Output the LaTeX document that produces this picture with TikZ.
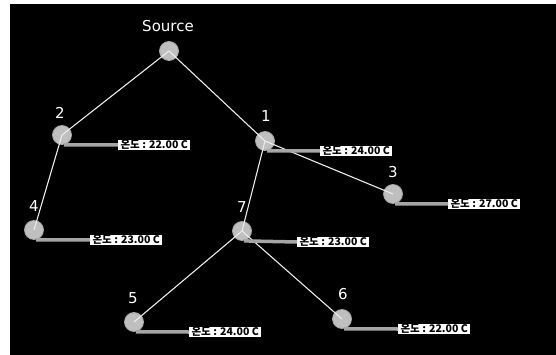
\documentclass[tikz,border=0pt]{standalone}
\usepackage{fontspec}
\setmainfont{DejaVu Sans}
\newfontfamily\krfont{Noto Sans CJK KR}
\begin{document}
\begin{tikzpicture}[x=1pt,y=-1pt,
  dot/.style={circle,minimum size=19pt,inner sep=0pt,fill=gray!50,draw=gray!70,line width=0.8pt},
  num/.style={text=white,font=\fontsize{15}{16}\selectfont,inner sep=0pt},
  edge/.style={draw=white!85!gray,line width=1.1pt},
  bar/.style={draw=gray!70,line width=3.5pt},
  tbox/.style={fill=white,text=black,minimum width=72pt,minimum height=10.5pt,inner sep=0pt,anchor=west,font=\krfont\bfseries\fontsize{10.5}{10.5}\selectfont}]
\useasboundingbox (0,0) rectangle (556,355);
\fill[black] (10,4) rectangle (556,355);
% circles
\node[dot] (src) at (169,51) {};
\node[dot] (n1) at (265,141) {};
\node[dot] (n2) at (62,135) {};
\node[dot] (n3) at (393,194) {};
\node[dot] (n4) at (34,230) {};
\node[dot] (n5) at (134,322) {};
\node[dot] (n6) at (342,319) {};
\node[dot] (n7) at (242,231) {};
% labels
\node[num] (lsrc) at (168,26) {Source};
\node[num] (l1) at (266,116) {1};
\node[num] (l2) at (60,113) {2};
\node[num] (l3) at (393,172) {3};
\node[num] (l4) at (34,206) {4};
\node[num] (l5) at (133,298) {5};
\node[num] (l6) at (343,294) {6};
\node[num] (l7) at (242,207) {7};
% edges
\draw[edge] (src.center) -- (n2.center);
\draw[edge] (src.center) -- (n1.center);
\draw[edge] (n2.center) -- (n4.center);
\draw[edge] (n1.center) -- (n3.center);
\draw[edge] (n1.center) -- (n7.center);
\draw[edge] (n7.center) -- (n5.center);
\draw[edge] (n7.center) -- (n6.center);
% value boxes
\node[tbox] (t1) at (320,151) {온도 : 24.00 C};
\node[tbox] (t2) at (118,145) {온도 : 22.00 C};
\node[tbox] (t3) at (448,204) {온도 : 27.00 C};
\node[tbox] (t4) at (90,240) {온도 : 23.00 C};
\node[tbox] (t5) at (189,332) {온도 : 24.00 C};
\node[tbox] (t6) at (398,329) {온도 : 22.00 C};
\node[tbox] (t7) at (297,242) {온도 : 23.00 C};
% bars
\draw[bar] (n1.south) ++(2,0) -- (t1.west);
\draw[bar] (n2.south) ++(2,0) -- (t2.west);
\draw[bar] (n3.south) ++(2,0) -- (t3.west);
\draw[bar] (n4.south) ++(2,0) -- (t4.west);
\draw[bar] (n5.south) ++(2,0) -- (t5.west);
\draw[bar] (n6.south) ++(2,0) -- (t6.west);
\draw[bar] (n7.south) ++(2,0) -- (t7.west);
\end{tikzpicture}
\end{document}
